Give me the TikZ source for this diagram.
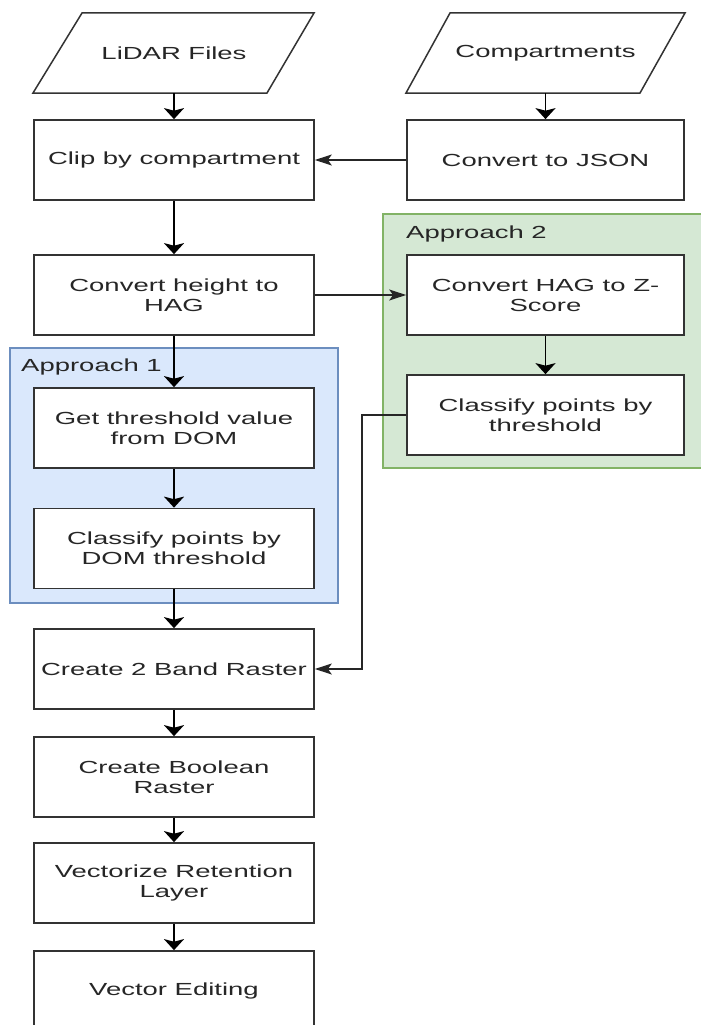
\documentclass[tikz,border=0pt]{standalone}
\usepackage{fontspec}
\setmainfont[FakeStretch=1.57]{Liberation Sans}
\usetikzlibrary{arrows.meta}
\definecolor{txt}{HTML}{262626}
\definecolor{bluefill}{HTML}{DAE8FC}
\definecolor{bluedraw}{HTML}{6C8EBF}
\definecolor{greenfill}{HTML}{D5E8D4}
\definecolor{greendraw}{HTML}{82B366}
\tikzset{
  stepbox/.style={draw=black!80, fill=white, line width=1.7pt, minimum width=280pt, minimum height=80pt, inner sep=0pt, align=center, text=txt, font=\fontsize{17.5}{20}\selectfont},
  paratext/.style={minimum width=235pt, minimum height=80pt, inner sep=0pt, align=center, text=txt, font=\fontsize{17.5}{20}\selectfont},
  para/.style={draw=black!80, fill=white, line width=1.5pt, line join=miter},
  grouplabel/.style={anchor=west, inner sep=0pt, text=txt, font=\fontsize{17.5}{20}\selectfont},
  varr/.style={draw=black, line width=1.9pt, -{Stealth[length=11pt,width=20pt,inset=2.5pt]}},
  harr/.style={draw=black!85, line width=1.2pt, -{Stealth[length=17pt,width=11pt,inset=4pt]}},
}
\begin{document}
\begin{tikzpicture}[x=1pt,y=-1pt]
\useasboundingbox (0,0) rectangle (701,1025);
\clip (0,0) rectangle (701,1025);
% containers
\fill[bluefill] (10,348) rectangle (338,603);
\draw[bluedraw, line width=1.2pt] (10,348) rectangle (338,603);
\fill[greenfill] (383,214) rectangle (710,468);
\draw[greendraw, line width=1.2pt] (710,214) -- (383,214) -- (383,468) -- (710,468);
\node[grouplabel] (lab1) at (21,367) {Approach 1};
\node[grouplabel] (lab2) at (406,234) {Approach 2};
% parallelograms
\draw[para] (82,13) -- (314,13) -- (267,93) -- (33,93) -- cycle;
\draw[para] (450,13) -- (685,13) -- (640,93) -- (406,93) -- cycle;
\node[paratext] (lidar) at (174,53) {LiDAR Files};
\node[paratext] (comp) at (545.5,53) {Compartments};
% boxes
\node[stepbox] (clip) at (174,160) {Clip by compartment};
\node[stepbox, minimum width=277pt] (json) at (545.5,160) {Convert to JSON};
\node[stepbox] (hag) at (174,295) {Convert height to\\HAG};
\node[stepbox, minimum width=277pt] (zs) at (545.5,295) {Convert HAG to Z-\\Score};
\node[stepbox, minimum width=277pt] (cls2) at (545.5,415) {Classify points by\\threshold};
\node[stepbox] (thr) at (174,428) {Get threshold value\\from DOM};
\node[stepbox] (cls1) at (174,548.5) {Classify points by\\DOM threshold};
\node[stepbox] (band) at (174,669) {Create 2 Band Raster};
\node[stepbox] (bool) at (174,777) {Create Boolean\\Raster};
\node[stepbox] (vec) at (174,883) {Vectorize Retention\\Layer};
\node[stepbox] (edit) at (174,991) {Vector Editing};
% connectors
\draw[varr] (lidar.south) -- (clip.north);
\draw[varr] (comp.south) -- (json.north);
\draw[harr] (json.west) -- (clip.east);
\draw[varr] (clip.south) -- (hag.north);
\draw[harr] (hag.east) -- (zs.west);
\draw[varr] (zs.south) -- (cls2.north);
\draw[varr] (hag.south) -- (thr.north);
\draw[varr] (thr.south) -- (cls1.north);
\draw[varr] (cls1.south) -- (band.north);
\coordinate (c1) at (362,415);
\coordinate (c2) at (362,669);
\draw[harr] (cls2.west) -- (c1) -- (c2) -- (band.east);
\draw[varr] (band.south) -- (bool.north);
\draw[varr] (bool.south) -- (vec.north);
\draw[varr] (vec.south) -- (edit.north);
\end{tikzpicture}
\end{document}
